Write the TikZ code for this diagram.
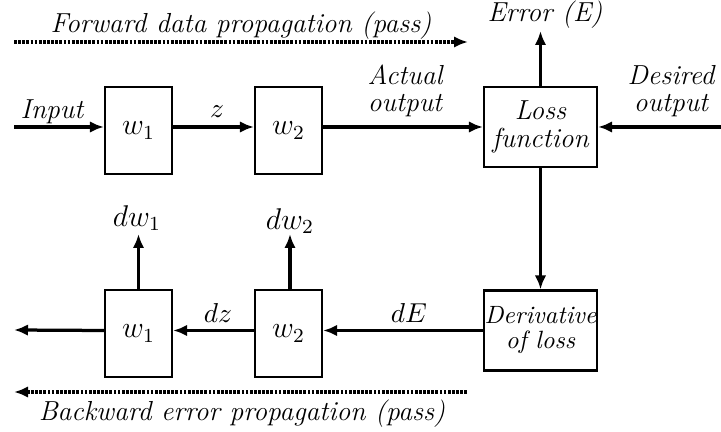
\documentclass[tikz,border=0pt]{standalone}
\usetikzlibrary{arrows.meta}
\begin{document}
\begin{tikzpicture}[x=0.4pt,y=-0.4pt,
  blk/.style={draw,line width=0.9pt,inner sep=0pt},
  wbox/.style={blk,minimum width=26.8pt,minimum height=34.8pt,font=\large},
  lbox/.style={blk,minimum width=45.2pt,minimum height=32pt,align=center,font=\fontsize{11}{12}\selectfont\itshape},
  flow/.style={line width=1.3pt,-{Latex[length=5.6pt,width=4.6pt]}},
  dotflow/.style={line width=1.3pt,dash pattern=on 1.1pt off 0.55pt,-{Latex[length=5.6pt,width=4.6pt]}},
  lbl/.style={font=\fontsize{11}{12}\selectfont\itshape,inner sep=0pt,align=center},
  mlbl/.style={font=\large,inner sep=0pt}]
\useasboundingbox (0,0) rectangle (721,432);
% top row
\node[wbox] (w1t) at (138.5,130.5) {$w_1$};
\node[wbox] (w2t) at (288.5,130.5) {$w_2$};
\node[lbox] (loss) at (540.5,127) {Loss\\[-1pt]function};
\coordinate (inL) at (14,127);
\coordinate (inR) at (721,127);
\coordinate (errT) at (540.5,31);
\draw[flow] (inL) -- (inL -| w1t.west);
\draw[flow] (w1t.east |- inL) -- (w2t.west |- inL);
\draw[flow] (w2t.east |- inL) -- (loss.west);
\draw[flow] (inR) -- (loss.east);
\draw[flow] (loss.north) -- (errT);
\node[lbl] (tin) at (52,112) {Input};
\node[lbl] (tz) at (217,112) {$z$};
\node[lbl] (tact) at (405,91) {Actual\\[-1pt]output};
\node[lbl] (tdes) at (671,91) {Desired\\[-1pt]output};
\node[lbl] (terr) at (545,15) {Error (E)};
% bottom row
\node[lbox,font=\itshape] (der) at (540.5,330.5) {Derivative\\[-2pt]of loss};
\node[wbox] (w2b) at (288.5,333.5) {$w_2$};
\node[wbox] (w1b) at (138.5,333.5) {$w_1$};
\coordinate (outL) at (14,330);
\coordinate (dw1T) at (138.5,234);
\coordinate (dw2T) at (290,234);
\draw[flow] (loss.south) -- (der.north);
\draw[flow] (der.west) -- (w2b.east |- der.west);
\draw[flow] (w2b.west |- der.west) -- (w1b.east |- der.west);
\draw[flow] (w1b.west |- der.west) -- (outL);
\draw[flow] (w1b.north) -- (dw1T);
\draw[flow] (w2b.north -| dw2T) -- (dw2T);
\node[lbl] (tdE) at (409,313) {$dE$};
\node[lbl] (tdz) at (218,313) {$dz$};
\node[mlbl] (tdw1) at (137,218) {$dw_1$};
\node[mlbl] (tdw2) at (290,221) {$dw_2$};
% dotted arrows
\coordinate (fwL) at (14,42);
\coordinate (fwR) at (468,42);
\coordinate (bwL) at (14,392);
\coordinate (bwR) at (467,392);
\draw[dotflow] (fwL) -- (fwR);
\draw[dotflow] (bwR) -- (bwL);
\node[lbl] (tfw) at (241,26) {Forward data propagation (pass)};
\node[lbl] (tbw) at (242,414) {Backward error propagation (pass)};
\end{tikzpicture}
\end{document}
